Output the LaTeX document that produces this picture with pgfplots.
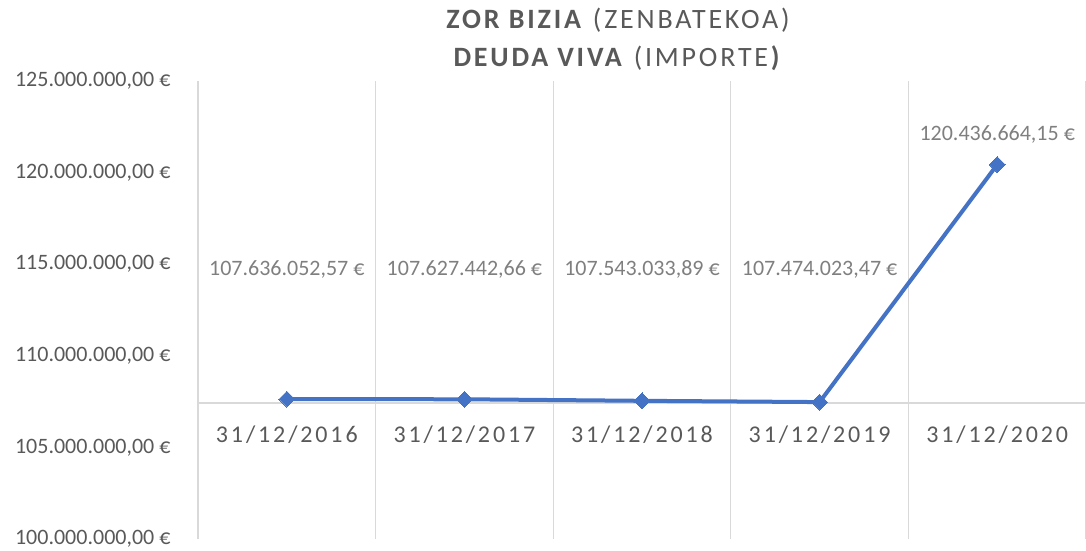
\documentclass[border=0pt]{standalone}
\usepackage{fontspec}
\setmainfont{Carlito}
\newfontfamily\spaced[LetterSpace=12]{Carlito}
\newfontfamily\titlefont[LetterSpace=10]{Carlito}
\usepackage{pgfplots}
\pgfplotsset{compat=1.18}
\definecolor{lineblue}{HTML}{4472C4}
\definecolor{txt}{HTML}{595959}
\definecolor{lbl}{HTML}{7F7F7F}
\definecolor{gridc}{HTML}{D9D9D9}
\begin{document}
\begin{tikzpicture}[x=1pt,y=1pt]
\begin{axis}[
  at={(198pt,-539pt)}, anchor=south west,
  scale only axis, width=888pt, height=458pt,
  xmin=-0.5, xmax=4.5, ymin=100e6, ymax=125e6,
  scaled y ticks=false,
  axis line style={draw=none},
  tick style={draw=none},
  xtick={0,1,2,3,4},
  xticklabels={31/12/2016,31/12/2017,31/12/2018,31/12/2019,31/12/2020},
  xticklabel style={font=\spaced\fontsize{24}{28}\selectfont, text=txt, anchor=center, yshift=104pt},
  minor xtick={-0.5,0.5,1.5,2.5,3.5,4.5},
  xminorgrids,
  minor grid style={draw=gridc, line width=1.3pt},
  ytick={100e6,105e6,110e6,115e6,120e6,125e6},
  yticklabels={{100.000.000,00 €},{105.000.000,00 €},{110.000.000,00 €},{115.000.000,00 €},{120.000.000,00 €},{125.000.000,00 €}},
  yticklabel style={font=\fontsize{22}{26}\selectfont, text=txt, anchor=east, xshift=-24pt},
  extra y ticks={107.43e6},
  extra y tick labels={},
  extra y tick style={grid=major, major grid style={draw=gridc, line width=1.3pt}},
  clip=false,
]
\addplot[lineblue, line width=4pt, mark=square*, mark size=5.6pt,
  mark options={rotate=45, fill=lineblue, draw=lineblue, line width=0pt}]
  coordinates {(0,107636052.57) (1,107627442.66) (2,107543033.89) (3,107474023.47) (4,120436664.15)};
\node[text=lbl, font=\fontsize{22}{26}\selectfont] at (axis cs:0,114.70e6) {107.636.052,57 €};
\node[text=lbl, font=\fontsize{22}{26}\selectfont] at (axis cs:1,114.70e6) {107.627.442,66 €};
\node[text=lbl, font=\fontsize{22}{26}\selectfont] at (axis cs:2,114.70e6) {107.543.033,89 €};
\node[text=lbl, font=\fontsize{22}{26}\selectfont] at (axis cs:3,114.70e6) {107.474.023,47 €};
\node[text=lbl, font=\fontsize{22}{26}\selectfont] at (axis cs:4,122.07e6) {120.436.664,15 €};
\end{axis}
\node[text=txt, font=\titlefont\fontsize{28}{32}\selectfont] at (618,-20) {\textbf{ZOR BIZIA} (ZENBATEKOA)};
\node[text=txt, font=\titlefont\fontsize{28}{32}\selectfont] at (618,-58) {\textbf{DEUDA VIVA} (IMPORTE\textbf{)}};
\pgfresetboundingbox
\path (0,0) rectangle (1086,-550);
\end{tikzpicture}
\end{document}
